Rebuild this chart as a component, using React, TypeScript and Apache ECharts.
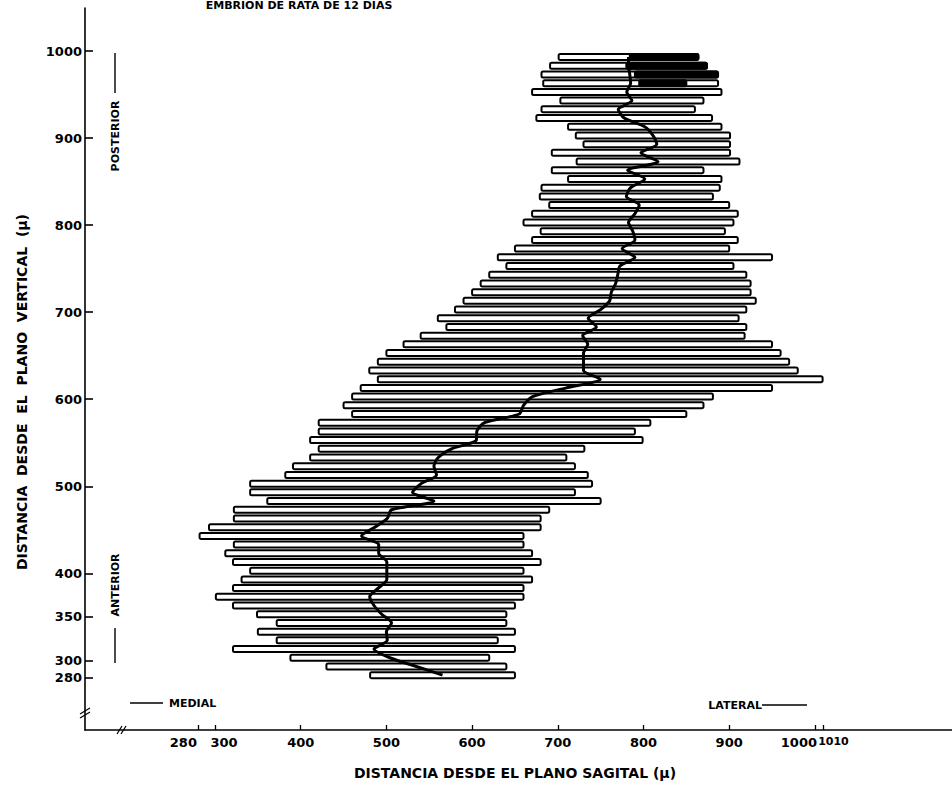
import React, { useEffect, useRef } from "react";
import * as echarts from "echarts";

// Sections (distance from vertical plane, µ)
const sections = [
  993, 983, 973, 963, 953, 943, 933, 923, 913, 903,
  893, 883, 873, 863, 853, 843, 833, 823, 813, 803,
  793, 783, 773, 763, 753, 743, 733, 723, 713, 703,
  693, 683, 673, 663, 653, 643, 633, 623, 613, 603,
  593, 583, 573, 563, 553, 543, 533, 523, 513, 503,
  493, 483, 473, 463, 453, 443, 433, 423, 413, 403,
  393, 383, 373, 363, 353, 343, 333, 323, 313, 303,
  293, 283,
];
// Medial edge (µ from sagittal plane)
const leftEdge = [
  701, 691, 681, 683, 670, 703, 681, 675, 712, 721,
  730, 693, 722, 693, 712, 681, 679, 690, 670, 660,
  680, 670, 650, 630, 640, 620, 610, 600, 590, 580,
  560, 570, 540, 520, 500, 490, 480, 490, 470, 460,
  450, 460, 421, 421, 411, 421, 411, 391, 382, 341,
  341, 361, 322, 322, 293, 282, 322, 312, 321, 341,
  331, 321, 301, 321, 349, 372, 350, 372, 321, 388,
  430, 481,
];
// Lateral edge
const rightEdge = [
  864, 874, 887, 887, 891, 870, 860, 880, 891, 901,
  901, 901, 912, 870, 891, 889, 881, 900, 910, 905,
  895, 910, 900, 950, 905, 920, 925, 925, 931, 920,
  911, 920, 918, 950, 960, 970, 980, 1009, 950, 881,
  870, 850, 808, 790, 799, 731, 710, 720, 735, 740,
  720, 750, 690, 680, 680, 660, 660, 670, 680, 660,
  670, 660, 660, 650, 640, 640, 650, 630, 650, 620,
  640, 650,
];
// Dark hatched mass at the posterior-lateral end
const blobSections = [993, 983, 973, 963];
const blobStart = [784, 780, 790, 795];
const blobEnd = [864, 874, 887, 850];

const yTicks = [280, 300, 350, 400, 500, 600, 700, 800, 900, 1000];
const xTicks = [280, 300, 400, 500, 600, 700, 800, 900, 1000, 1010];

const FONT = "DejaVu Sans";

export default function App() {
  const ref = useRef<HTMLDivElement>(null);
  useEffect(() => {
    if (!ref.current) return;
    const chart = echarts.init(ref.current, null, { renderer: "svg" });
    const barData = sections.map((s, i) => [leftEdge[i], rightEdge[i], s]);
    const blobData = blobSections.map((s, i) => [blobStart[i], blobEnd[i], s]);
    const midData = sections.map((s, i) => [(leftEdge[i] + rightEdge[i]) / 2, s]);

    const rectItem = (fill: string) => (params: any, api: any) => {
      const y = api.value(2);
      const a = api.coord([api.value(0), y]);
      const b = api.coord([api.value(1), y]);
      return {
        type: "rect",
        shape: { x: a[0], y: a[1] - 3, width: b[0] - a[0], height: 6, r: 1.5 },
        style: { fill, stroke: "#000", lineWidth: 2 },
      };
    };

    const xLabelFmt = (v: number) => {
      if (v === 280) return "{l|280}";
      if (v === 300) return "{r|300}";
      if (v === 1000) return "{l2|1000}";
      if (v === 1010) return "{s|1010}";
      return String(v);
    };

    chart.setOption({
      animation: false,
      backgroundColor: "#fff",
      grid: { left: 85, right: 0, top: 8, bottom: 56, containLabel: false, outerBoundsMode: "none" },
      xAxis: {
        type: "value",
        min: 148.3,
        max: 1160,
        splitLine: { show: false },
        axisLine: { show: true, lineStyle: { color: "#000", width: 1.6 } },
        axisTick: { show: true, inside: true, length: 5, customValues: xTicks, lineStyle: { color: "#000", width: 1.3 } },
        axisLabel: {
          customValues: xTicks,
          formatter: xLabelFmt,
          color: "#000",
          fontFamily: FONT,
          fontWeight: "bold",
          fontSize: 13,
          margin: 6,
          rich: {
            l: { fontFamily: FONT, fontWeight: "bold", fontSize: 13, color: "#000", padding: [0, 29, 0, 0] },
            r: { fontFamily: FONT, fontWeight: "bold", fontSize: 13, color: "#000", padding: [0, 0, 0, 18] },
            l2: { fontFamily: FONT, fontWeight: "bold", fontSize: 13, color: "#000", padding: [0, 32, 0, 0] },
            s: { fontFamily: FONT, fontWeight: "bold", fontSize: 11, color: "#000", padding: [0, 0, 0, 20] },
          },
        },
      },
      yAxis: {
        type: "value",
        min: 220,
        max: 1049.4,
        splitLine: { show: false },
        axisLine: { show: true, lineStyle: { color: "#000", width: 1.6 } },
        axisTick: { show: true, inside: true, length: 8, customValues: yTicks, lineStyle: { color: "#000", width: 1.6 } },
        axisLabel: {
          customValues: yTicks,
          formatter: (v: number) => String(v),
          color: "#000",
          fontFamily: FONT,
          fontWeight: "bold",
          fontSize: 13,
          margin: 3,
        },
      },
      series: [
        {
          type: "custom",
          name: "secciones",
          renderItem: rectItem("#fff"),
          data: barData,
          encode: { x: [0, 1], y: 2 },
          z: 2,
          silent: true,
        },
        {
          type: "custom",
          name: "masa",
          renderItem: rectItem("#000"),
          data: blobData,
          encode: { x: [0, 1], y: 2 },
          z: 3,
          silent: true,
        },
        {
          type: "line",
          name: "línea media",
          data: midData,
          showSymbol: false,
          smooth: 0.25,
          lineStyle: { color: "#000", width: 3 },
          z: 5,
          silent: true,
        },
      ],
      graphic: [
        {
          type: "text",
          x: 299,
          y: 0,
          style: { text: "EMBRION DE RATA DE 12 DIAS", fontFamily: FONT, fontWeight: "bold", fontSize: 11, fill: "#000", align: "center", verticalAlign: "top" },
        },
        {
          type: "text",
          x: 22,
          y: 392,
          rotation: Math.PI / 2,
          style: { text: "DISTANCIA  DESDE  EL  PLANO  VERTICAL  (µ)", fontFamily: FONT, fontWeight: "bold", fontSize: 14, fill: "#000", align: "center", verticalAlign: "middle" },
        },
        {
          type: "text",
          x: 515,
          y: 773,
          style: { text: "DISTANCIA DESDE EL PLANO SAGITAL (µ)", fontFamily: FONT, fontWeight: "bold", fontSize: 14, fill: "#000", align: "center", verticalAlign: "middle" },
        },
        {
          type: "text",
          x: 115,
          y: 136,
          rotation: Math.PI / 2,
          style: { text: "POSTERIOR", fontFamily: FONT, fontWeight: "bold", fontSize: 11, fill: "#000", align: "center", verticalAlign: "middle" },
        },
        { type: "line", shape: { x1: 115, y1: 53, x2: 115, y2: 93 }, style: { stroke: "#000", lineWidth: 1.4 } },
        {
          type: "text",
          x: 115,
          y: 585,
          rotation: Math.PI / 2,
          style: { text: "ANTERIOR", fontFamily: FONT, fontWeight: "bold", fontSize: 11, fill: "#000", align: "center", verticalAlign: "middle" },
        },
        { type: "line", shape: { x1: 115, y1: 628, x2: 115, y2: 663 }, style: { stroke: "#000", lineWidth: 1.4 } },
        { type: "line", shape: { x1: 130, y1: 703, x2: 163, y2: 703 }, style: { stroke: "#000", lineWidth: 1.6 } },
        {
          type: "text",
          x: 169,
          y: 703,
          style: { text: "MEDIAL", fontFamily: FONT, fontWeight: "bold", fontSize: 11, fill: "#000", align: "left", verticalAlign: "middle" },
        },
        {
          type: "text",
          x: 762,
          y: 705,
          style: { text: "LATERAL", fontFamily: FONT, fontWeight: "bold", fontSize: 11, fill: "#000", align: "right", verticalAlign: "middle" },
        },
        { type: "line", shape: { x1: 762, y1: 705, x2: 807, y2: 705 }, style: { stroke: "#000", lineWidth: 1.6 } },
        // axis break marks
        { type: "line", shape: { x1: 117, y1: 734, x2: 122, y2: 726 }, style: { stroke: "#000", lineWidth: 1.3 } },
        { type: "line", shape: { x1: 121, y1: 734, x2: 126, y2: 726 }, style: { stroke: "#000", lineWidth: 1.3 } },
        { type: "line", shape: { x1: 80, y1: 714, x2: 90, y2: 708 }, style: { stroke: "#000", lineWidth: 1.3 } },
        { type: "line", shape: { x1: 80, y1: 718, x2: 90, y2: 712 }, style: { stroke: "#000", lineWidth: 1.3 } },
      ],
    });
    return () => chart.dispose();
  }, []);
  return <div ref={ref} style={{ position: "fixed", left: 0, top: 0, width: 952, height: 786 }} />;
}
